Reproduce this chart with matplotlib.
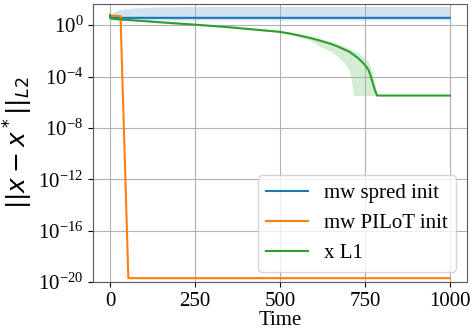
import numpy as np
import matplotlib
matplotlib.use('Agg')
import matplotlib.pyplot as plt

# フォント設定 (Times系)
plt.rcParams['font.family'] = ['Liberation Serif', 'DejaVu Serif']
plt.rcParams['font.size'] = 15

# データ (値は log10 で読み取り)
t_spred = [0, 10, 30, 70, 150, 300, 1000]
spred_mean = [0.60, 0.57, 0.57, 0.57, 0.57, 0.57, 0.57]
spred_lo = [0.50, 0.42, 0.39, 0.39, 0.39, 0.39, 0.39]
spred_hi = [0.75, 1.00, 1.22, 1.35, 1.43, 1.45, 1.45]

t_pilot = [0, 31, 35, 40, 45, 50, 54, 1000]
pilot_mean = [0.75, 0.70, -2.8, -7.2, -11.6, -16.1, -19.7, -19.7]

t_l1 = [0, 5, 50, 100, 150, 200, 250, 300, 350, 400, 450, 500, 530, 560, 590,
        620, 650, 670, 690, 705, 710, 713, 716, 728, 740, 750, 756, 760, 765,
        770, 775, 780, 786, 800, 1000]
l1_mean = [0.80, 0.50, 0.41, 0.32, 0.22, 0.13, 0.04, -0.06, -0.16, -0.28, -0.40,
           -0.52, -0.66, -0.82, -1.00, -1.22, -1.46, -1.66, -1.90, -2.08, -2.18,
           -2.23, -2.29, -2.52, -2.81, -3.10, -3.30, -3.45, -3.80, -4.22, -4.65,
           -5.08, -5.48, -5.48, -5.48]
l1_lo = [0.75, 0.45, 0.36, 0.27, 0.17, 0.08, -0.01, -0.11, -0.21, -0.33, -0.45,
         -0.58, -0.73, -0.95, -1.20, -1.68, -2.05, -2.45, -2.95, -3.60, -4.20,
         -4.80, -5.48, -5.48, -5.48, -5.48, -5.48, -5.48, -5.48, -5.48, -5.48,
         -5.48, -5.48, -5.48, -5.48]
l1_hi = [0.85, 0.55, 0.46, 0.37, 0.27, 0.18, 0.09, -0.01, -0.11, -0.23, -0.35,
         -0.45, -0.55, -0.72, -0.90, -1.05, -1.28, -1.45, -1.65, -1.85, -1.90,
         -1.94, -1.98, -2.12, -2.35, -2.55, -2.70, -2.80, -3.10, -3.45, -3.95,
         -4.60, -5.48, -5.48, -5.48]

labels = ['mw spred init', 'mw PILoT init', 'x L1']

fig = plt.figure(figsize=(4.72, 3.31), dpi=100)
ax = fig.add_axes([0.197, 0.148, 0.792, 0.840])

def p(v):
    return 10.0 ** np.array(v)

ax.plot(t_spred, p(spred_mean), color='tab:blue', lw=1.5, label=labels[0])
ax.fill_between(t_spred, p(spred_lo), p(spred_hi), color='tab:blue', alpha=0.2, lw=0)

ax.plot(t_pilot, p(pilot_mean), color='tab:orange', lw=1.5, label=labels[1])

ax.plot(t_l1, p(l1_mean), color='tab:green', lw=1.5, label=labels[2])
ax.fill_between(t_l1, p(l1_lo), p(l1_hi), color='tab:green', alpha=0.2, lw=0)

ax.set_yscale('log')
ax.set_ylim(1e-20, 10 ** 1.65)
ax.set_xlim(-50, 1050)
ax.set_yticks([1e-20, 1e-16, 1e-12, 1e-8, 1e-4, 1e0])
ax.yaxis.set_minor_locator(matplotlib.ticker.NullLocator())
ax.set_xticks([0, 250, 500, 750, 1000])

ax.grid(True, color='#b0b0b0', lw=0.8)
for s in ax.spines.values():
    s.set_color('0.35')

ax.set_xlabel('Time', labelpad=0)
ax.set_ylabel(r'$||x - x^*||_{L2}$', fontsize=18, labelpad=2)
ax.legend(loc='lower right', fontsize=15)

fig.savefig('out.png', dpi=100)
